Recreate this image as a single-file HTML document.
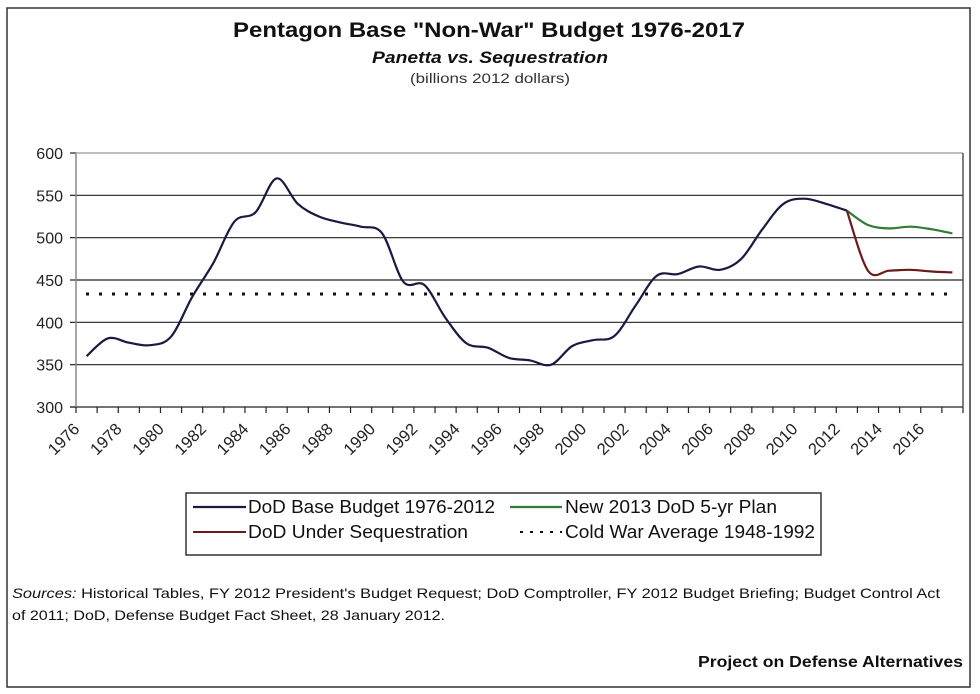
<!DOCTYPE html>
<html><head><meta charset="utf-8"><style>
html,body{margin:0;padding:0;background:#fff;}
svg{display:block;font-family:"Liberation Sans",Arial,sans-serif;}
</style></head><body>
<svg id="c" width="980" height="694" viewBox="0 0 980 694" xmlns="http://www.w3.org/2000/svg">
<rect x="0" y="0" width="980" height="694" fill="#fff"/>
<rect x="7" y="8" width="963" height="679" fill="none" stroke="#333" stroke-width="1.5"/>
<text x="233" y="37" font-size="21" font-weight="bold" fill="#111" textLength="512" lengthAdjust="spacingAndGlyphs">Pentagon Base "Non-War" Budget 1976-2017</text>
<text x="372" y="63" font-size="16.5" font-weight="bold" font-style="italic" fill="#111" textLength="236" lengthAdjust="spacingAndGlyphs">Panetta vs. Sequestration</text>
<text x="410" y="83" font-size="14" fill="#333" textLength="160" lengthAdjust="spacingAndGlyphs">(billions 2012 dollars)</text>
<g id="grid" stroke="#222" stroke-width="1.2"></g>
<g id="ylab" font-size="16" fill="#222" text-anchor="end"></g>
<g id="xlab" font-size="16.5" fill="#222"></g>
<line x1="76" y1="153" x2="76" y2="407" stroke="#888" stroke-width="1.5"/>
<line x1="963" y1="153" x2="963" y2="407" stroke="#555" stroke-width="1.5"/>
<line x1="86" y1="294" x2="953" y2="294" stroke="#111" stroke-width="3" stroke-dasharray="3,10"/>
<g id="series" fill="none" stroke-width="2.2"></g>
<rect x="186" y="493" width="635" height="62" fill="#fff" stroke="#333" stroke-width="1.5"/>
<line x1="193" y1="507" x2="246" y2="507" stroke="#1a1a40" stroke-width="2.2"/>
<text x="248" y="513" font-size="18" fill="#111" textLength="247" lengthAdjust="spacingAndGlyphs">DoD Base Budget 1976-2012</text>
<line x1="510" y1="507" x2="562" y2="507" stroke="#2e7d32" stroke-width="2.2"/>
<text x="565" y="513" font-size="18" fill="#111" textLength="212" lengthAdjust="spacingAndGlyphs">New 2013 DoD 5-yr Plan</text>
<line x1="193" y1="532" x2="246" y2="532" stroke="#6b1a1a" stroke-width="2"/>
<text x="248" y="538" font-size="18" fill="#111" textLength="220" lengthAdjust="spacingAndGlyphs">DoD Under Sequestration</text>
<line x1="520" y1="532" x2="562" y2="532" stroke="#111" stroke-width="2" stroke-dasharray="3,7"/>
<text x="565" y="538" font-size="18" fill="#111" textLength="250" lengthAdjust="spacingAndGlyphs">Cold War Average 1948-1992</text>
<text x="12" y="598" font-size="14" fill="#111" textLength="928" lengthAdjust="spacingAndGlyphs"><tspan font-style="italic">Sources:</tspan>  Historical Tables, FY 2012 President's Budget Request; DoD Comptroller, FY 2012  Budget Briefing; Budget Control Act</text>
<text x="12" y="620" font-size="14" fill="#111" textLength="433" lengthAdjust="spacingAndGlyphs">of 2011; DoD, Defense Budget Fact Sheet, 28 January 2012.</text>
<text x="698" y="667" font-size="15.5" font-weight="bold" fill="#111" textLength="265" lengthAdjust="spacingAndGlyphs">Project on Defense Alternatives</text>
</svg>
<script>
var NS="http://www.w3.org/2000/svg";
function el(p,t,a,txt){var e=document.createElementNS(NS,t);for(var k in a)e.setAttribute(k,a[k]);if(txt)e.textContent=txt;document.getElementById(p).appendChild(e);return e;}
function Y(v){return 407-(v-300)*254/300;}
var step=887/42;function X(i){return 76+step*(i+0.5);}
for(var v=300;v<=600;v+=50){var y=Y(v);
 if(v>300&&v<600)el("grid","line",{x1:76,y1:y,x2:963,y2:y});
 if(v==600)el("grid","line",{x1:76,y1:y,x2:963,y2:y,stroke:"#999"});
 if(v==300)el("grid","line",{x1:70,y1:y,x2:963,y2:y});
 el("grid","line",{x1:70,y1:y,x2:76,y2:y});
 el("ylab","text",{x:63,y:y+6},String(v));}
for(var i=0;i<=42;i++){var x=76+step*i;el("grid","line",{x1:x,y1:407,x2:x,y2:413});}
for(var yr=1976;yr<=2016;yr+=2){var i=yr-1976;var x=X(i)-6,y=430;
 el("xlab","text",{x:x,y:y,"text-anchor":"end",transform:"rotate(-45 "+x+" "+y+")"},String(yr));}
var blue=[360,381,376,373,383,430,470,519,530,570,540,525,518,513,505,448,444,405,375,370,358,355,350,372,379,384,420,455,457,466,462,475,510,540,546,540,532];
var green=[532,515,511,513,510,505];
var red=[532,461,461,462,460,459];
function path(pts){var d="M"+pts[0][0]+","+pts[0][1];
 for(var i=0;i<pts.length-1;i++){var p0=pts[i-1]||pts[i],p1=pts[i],p2=pts[i+1],p3=pts[i+2]||p2;
  var c1=[p1[0]+(p2[0]-p0[0])/6,p1[1]+(p2[1]-p0[1])/6],c2=[p2[0]-(p3[0]-p1[0])/6,p2[1]-(p3[1]-p1[1])/6];
  d+=" C"+c1[0].toFixed(1)+","+c1[1].toFixed(1)+" "+c2[0].toFixed(1)+","+c2[1].toFixed(1)+" "+p2[0].toFixed(1)+","+p2[1].toFixed(1);}
 return d;}
function pts(a,o){return a.map(function(v,i){return [X(i+o),Y(v)];});}
el("series","path",{d:path(pts(green,36)),stroke:"#2e7d32"});
el("series","path",{d:path(pts(red,36)),stroke:"#6b1a1a"});
el("series","path",{d:path(pts(blue,0)),stroke:"#1a1a40"});
</script>
</body></html>
